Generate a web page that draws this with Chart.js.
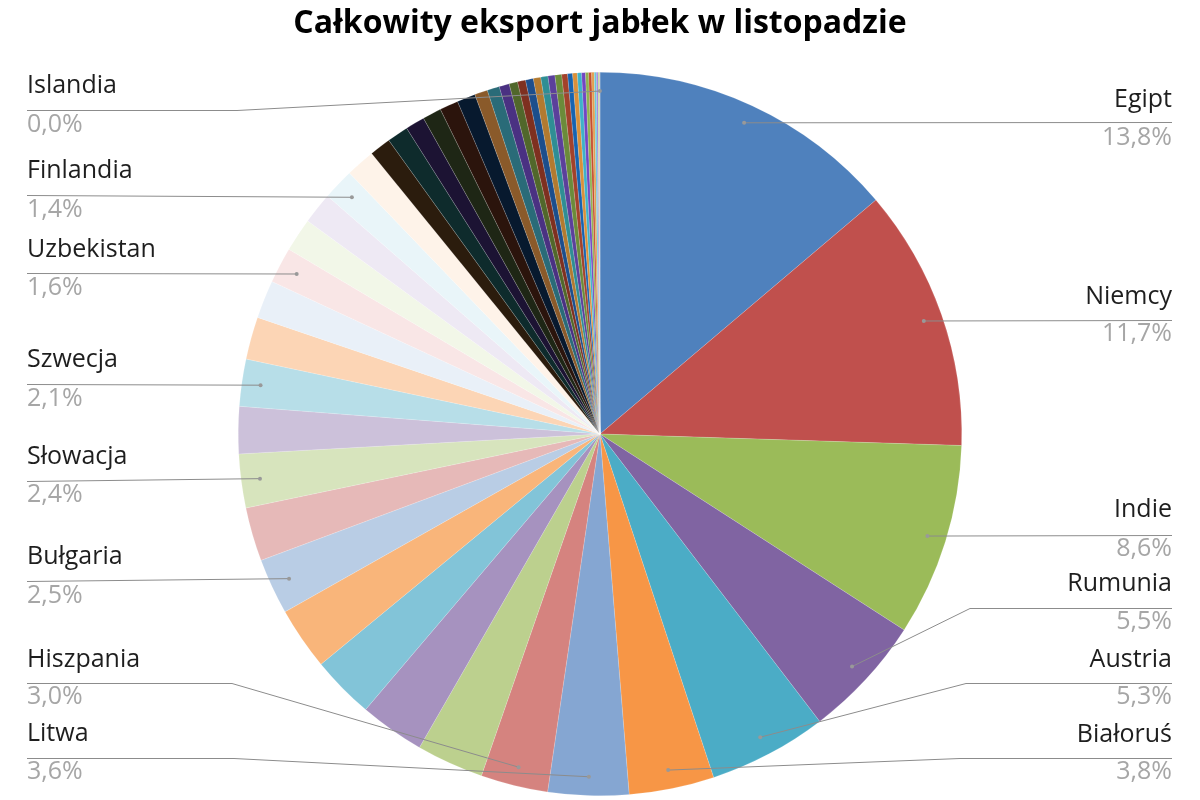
<!DOCTYPE html>
<html lang="pl">
<head>
<meta charset="utf-8">
<title>Całkowity eksport jabłek w listopadzie</title>
<script src="https://cdn.jsdelivr.net/npm/chart.js@4.4.1/dist/chart.umd.min.js"></script>
<style>
  html, body { margin: 0; padding: 0; background: #fff; }
  #wrap { width: 1200px; height: 800px; }
</style>
</head>
<body>
<div id="wrap"><canvas id="pie" width="1200" height="800"></canvas></div>
<script>
// Dane (udział w %), posortowane malejąco, zgodnie z ruchem wskazówek zegara
const countries = [
  'Egipt', 'Niemcy', 'Indie', 'Rumunia', 'Austria', 'Białoruś',
  'Litwa', 'Hiszpania', '', '', '', '',
  'Bułgaria', '', 'Słowacja', '', 'Szwecja', '',
  '', 'Uzbekistan', '', '', 'Finlandia', '',
  '', '', '', '', '', '',
  '', '', '', '', '', '',
  '', '', '', '', '', '',
  '', '', '', '', '', '',
  '', '', '', '', 'Islandia'
];

const shares = [
  13.8, 11.7, 8.6, 5.5, 5.3, 3.8,
  3.6, 3.0, 3.0, 2.9, 2.8, 2.8,
  2.5, 2.4, 2.4, 2.1, 2.1, 1.9,
  1.7, 1.6, 1.5, 1.4, 1.4, 1.3,
  0.95, 0.95, 0.86, 0.84, 0.83, 0.82,
  0.58, 0.55, 0.45, 0.38, 0.36, 0.35,
  0.33, 0.32, 0.31, 0.30, 0.26, 0.22,
  0.21, 0.19, 0.17, 0.14, 0.13, 0.12,
  0.09, 0.07, 0.05, 0.03, 0.01
];

// kolory w stylu palety Office (akcenty, rozjaśnienia, przyciemnienia)
const sliceColors = [
  '#4F81BD', '#C0504D', '#9BBB59', '#8064A2', '#4BACC6', '#F79646',
  '#85A6D2', '#D5837F', '#BCD08E', '#A692BF', '#82C4D8', '#F9B57A',
  '#B9CDE5', '#E6B9B8', '#D7E4BD', '#CCC1DA', '#B7DEE8', '#FCD5B5',
  '#E9F0F8', '#F9E6E6', '#F2F7E8', '#EEE9F4', '#E9F5F9', '#FEF3E9',
  '#2B1C0D', '#0E2B2C', '#1C1333', '#1E2615', '#2B140C', '#07192E',
  '#8A5A2A', '#2A6B78', '#4A3182', '#51672B', '#7E3020', '#1C4E8C',
  '#B27A30', '#2F8E94', '#5B409B', '#6B8B3A', '#A2422B', '#1763B0',
  '#D9903A', '#3EB2C8', '#7246C2', '#8FB24F', '#C54E2E', '#E0A050',
  '#66C8D8', '#9C7AD8', '#B8D888', '#E88A70', '#9CC2E0'
];

// Rozmieszczenie etykiet (tylko układ, nie dane)
const labelLayout = [
  { name: 'Egipt',      side: 'right', textY: 100, lineY: 122, pctY: 138 },
  { name: 'Niemcy',     side: 'right', textY: 297, lineY: 320, pctY: 334 },
  { name: 'Indie',      side: 'right', textY: 510, lineY: 535, pctY: 549 },
  { name: 'Rumunia',    side: 'right', textY: 584, lineY: 608, pctY: 622, elbowX: 970 },
  { name: 'Austria',    side: 'right', textY: 660, lineY: 683, pctY: 697, elbowX: 966 },
  { name: 'Białoruś',   side: 'right', textY: 735, lineY: 758, pctY: 772, elbowX: 960 },
  { name: 'Islandia',   side: 'left',  textY: 86,  lineY: 110, pctY: 125, elbowX: 237 },
  { name: 'Finlandia',  side: 'left',  textY: 171, lineY: 195, pctY: 210 },
  { name: 'Uzbekistan', side: 'left',  textY: 250, lineY: 273, pctY: 288 },
  { name: 'Szwecja',    side: 'left',  textY: 360, lineY: 384, pctY: 399 },
  { name: 'Słowacja',   side: 'left',  textY: 457, lineY: 481, pctY: 495 },
  { name: 'Bułgaria',   side: 'left',  textY: 557, lineY: 581, pctY: 596 },
  { name: 'Hiszpania',  side: 'left',  textY: 660, lineY: 683, pctY: 697, elbowX: 232 },
  { name: 'Litwa',      side: 'left',  textY: 734, lineY: 758, pctY: 772, elbowX: 234 }
];

const total = shares.reduce((a, b) => a + b, 0);
const fmtPct = (v) => (v / total * 100).toFixed(1).replace('.', ',') + '%';

// Tytuł i etykiety z liniami odniesienia rysowane ręcznie
const calloutPlugin = {
  id: 'callouts',
  afterDatasetsDraw(chart) {
    const ctx = chart.ctx;
    const meta = chart.getDatasetMeta(0);
    ctx.save();

    ctx.fillStyle = '#000';
    ctx.font = 'bold 32px "Open Sans"';
    ctx.textAlign = 'center';
    ctx.textBaseline = 'middle';
    ctx.fillText('Całkowity eksport jabłek w listopadzie', 600, 24);

    labelLayout.forEach(l => {
      const i = countries.indexOf(l.name);
      const arc = meta.data[i];
      const p = arc.getProps(['x', 'y', 'startAngle', 'endAngle', 'outerRadius'], true);
      const mid = (p.startAngle + p.endAngle) / 2;
      const r = p.outerRadius * 0.948;
      const dx = p.x + Math.cos(mid) * r;
      const dy = p.y + Math.sin(mid) * r;
      const edgeX = l.side === 'left' ? 27 : 1172;

      ctx.strokeStyle = '#8C8C8C';
      ctx.lineWidth = 1;
      ctx.beginPath();
      ctx.moveTo(edgeX, l.lineY + 0.5);
      if (l.elbowX) ctx.lineTo(l.elbowX, l.lineY + 0.5);
      ctx.lineTo(dx, dy);
      ctx.stroke();

      ctx.fillStyle = '#999';
      ctx.beginPath();
      ctx.arc(dx, dy, 2, 0, Math.PI * 2);
      ctx.fill();

      ctx.textAlign = l.side === 'left' ? 'left' : 'right';
      ctx.textBaseline = 'middle';
      ctx.font = '25px "Open Sans"';
      ctx.fillStyle = '#1E1E1E';
      ctx.fillText(l.name, edgeX, l.textY);
      ctx.fillStyle = '#A6A6A6';
      ctx.fillText(fmtPct(shares[i]), edgeX, l.pctY);
    });
    ctx.restore();
  }
};

new Chart(document.getElementById('pie').getContext('2d'), {
  type: 'pie',
  plugins: [calloutPlugin],
  data: {
    labels: countries,
    datasets: [{
      data: shares,
      backgroundColor: sliceColors,
      borderColor: 'rgba(255,255,255,0.3)',
      borderWidth: 0.5
    }]
  },
  options: {
    responsive: false,
    animation: false,
    devicePixelRatio: 1,
    layout: { padding: { top: 72, bottom: 4, left: 0, right: 0 } },
    plugins: {
      legend: { display: false },
      tooltip: { enabled: false },
      title: { display: false }
    }
  }
});
</script>
</body>
</html>
